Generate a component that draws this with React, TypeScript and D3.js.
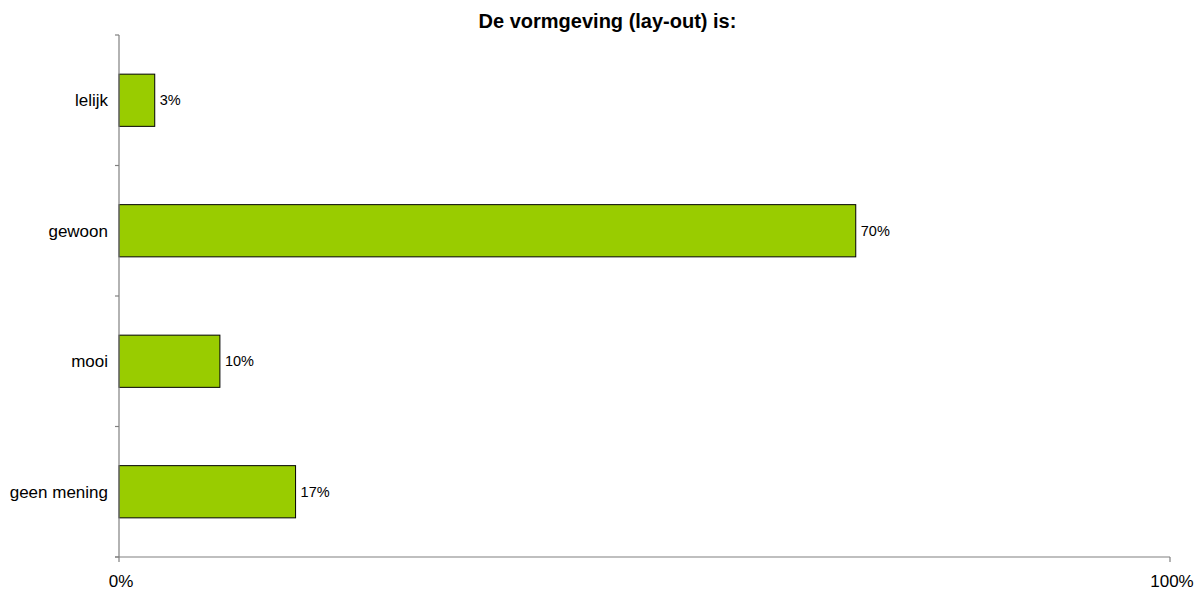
import React from "react";
import * as d3 from "d3";

const title = "De vormgeving (lay-out) is:";
const categories = ["lelijk", "gewoon", "mooi", "geen mening"];
const values = [3.4, 70.1, 9.6, 16.8];
const valueLabels = ["3%", "70%", "10%", "17%"];
const xTicks = [0, 100];

export default function App() {
  const W = 1201, H = 590;
  const left = 119, right = 1170, top = 35, bottom = 557;
  const x = d3.scaleLinear().domain([0, 100]).range([left, right]);
  const y = d3.scaleBand().domain(categories).range([top, bottom]).paddingInner(0.6).paddingOuter(0.3);
  const yEdges = d3.range(categories.length + 1).map((i) => top + (i * (bottom - top)) / categories.length);
  const font = "'Liberation Sans', Arial, sans-serif";
  const axisColor = "#808080";
  return (
    <svg width={W} height={H} style={{ position: "absolute", left: 0, top: 0 }} fontFamily={font}>
      <rect width={W} height={H} fill="#fff" />
      <text x={607.5} y={28} textAnchor="middle" fontWeight="bold" fontSize={20} fill="#000">{title}</text>
      {categories.map((c, i) => (
        <g key={c}>
          <rect x={x(0)} y={y(c)!} width={x(values[i]) - x(0)} height={y.bandwidth()} fill="#99cc00" stroke="#000" strokeWidth={1} />
          <text x={108} y={y(c)! + y.bandwidth() / 2} dy="0.34em" textAnchor="end" fontSize={17} fill="#000">{c}</text>
          <text x={x(values[i]) + 5} y={y(c)! + y.bandwidth() / 2} dy="0.34em" fontSize={14.5} fill="#000">{valueLabels[i]}</text>
        </g>
      ))}
      <line x1={left} x2={left} y1={top} y2={bottom} stroke={axisColor} strokeWidth={1.2} />
      {yEdges.map((e, i) => (
        <line key={i} x1={left - 4} x2={left} y1={e} y2={e} stroke={axisColor} strokeWidth={1.2} />
      ))}
      <line x1={left - 4} x2={right} y1={bottom} y2={bottom} stroke={axisColor} strokeWidth={1.2} />
      {xTicks.map((t) => (
        <g key={t}>
          <line x1={x(t)} x2={x(t)} y1={bottom} y2={bottom + 5} stroke={axisColor} strokeWidth={1.2} />
          <text x={x(t) + 2} y={587} textAnchor="middle" fontSize={17} fill="#000">{t + "%"}</text>
        </g>
      ))}
    </svg>
  );
}
